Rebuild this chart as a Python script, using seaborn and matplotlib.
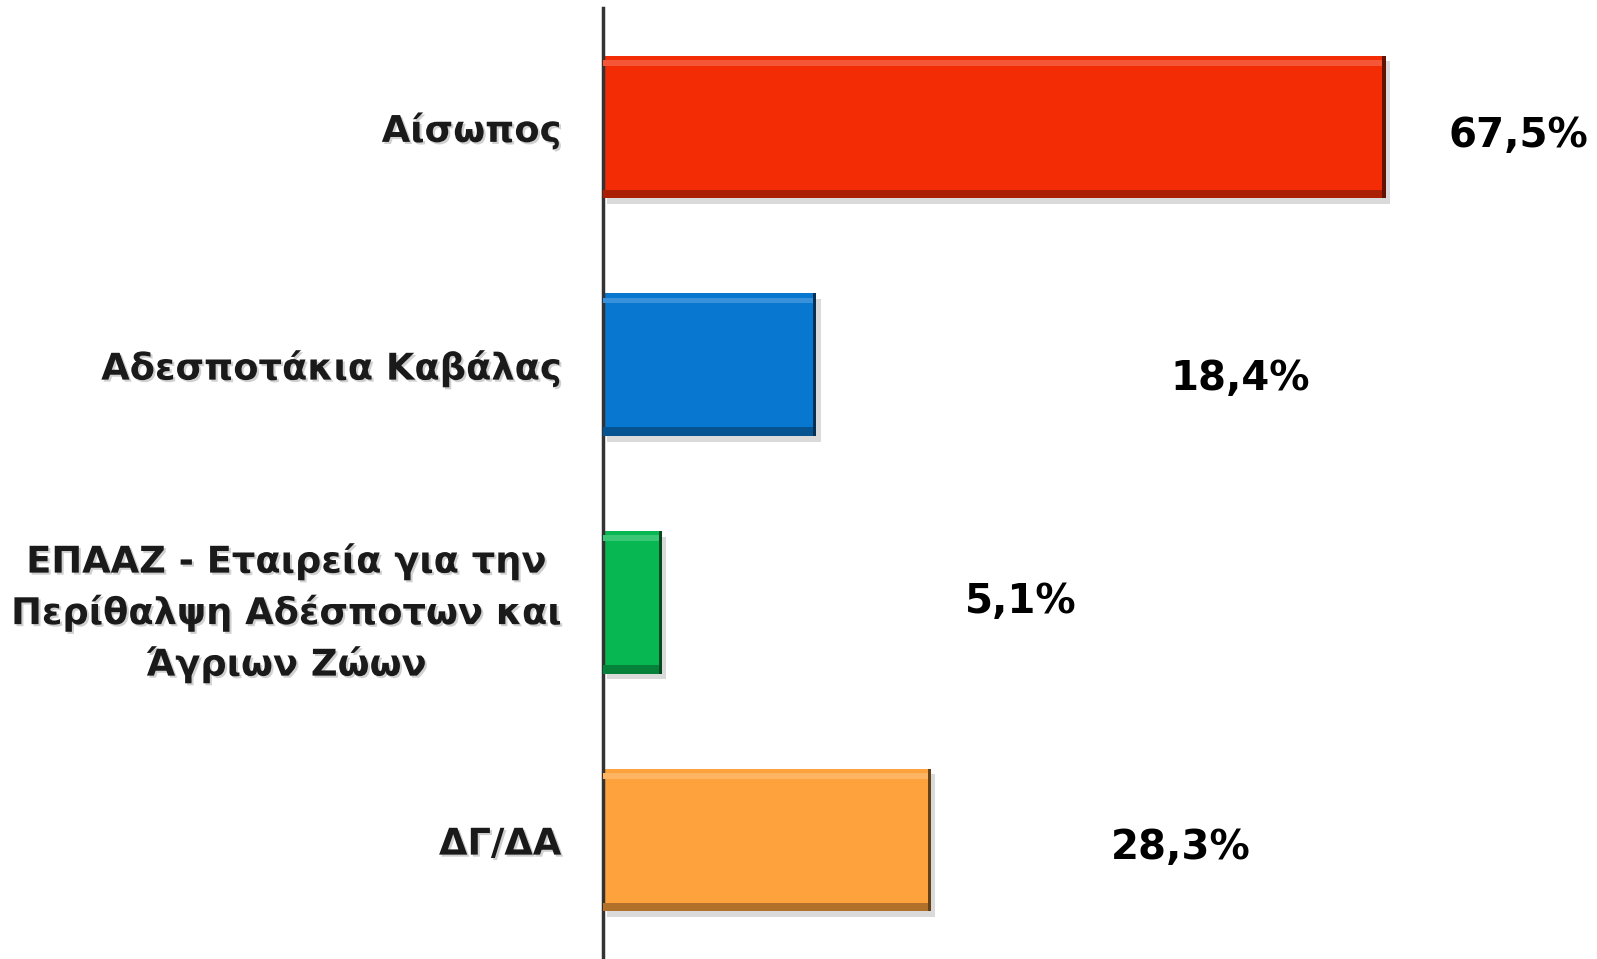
import pandas as pd
import seaborn as sns
import matplotlib.pyplot as plt
import matplotlib.patheffects as pe
from matplotlib.patches import Rectangle
from matplotlib.colors import to_rgb

# Δεδομένα
categories = [
    "Αίσωπος",
    "Αδεσποτάκια Καβάλας",
    "ΕΠΑΑΖ - Εταιρεία για την\nΠερίθαλψη Αδέσποτων και\nΆγριων Ζώων",
    "ΔΓ/ΔΑ",
]
values = [67.5, 18.4, 5.1, 28.3]
colors = ["#F42C06", "#0877CF", "#07B852", "#FDA23C"]

# θέσεις ετικετών τιμών (όπως στο πρωτότυπο)
label_x = [78.9, 54.9, 36.0, 49.8]
label_dy = [0.04, 0.06, 0.0, 0.035]

df = pd.DataFrame({"category": categories, "value": values})

sns.set_style("white")
plt.rcParams["font.family"] = ["DejaVu Sans"]

fig = plt.figure(figsize=(15.97, 9.59), dpi=100)
ax = fig.add_axes([603 / 1597, 0, 1 - 603 / 1597, 951 / 959])

sns.barplot(data=df, x="value", y="category", hue="category",
            palette=colors, saturation=1, width=0.6, legend=False, ax=ax,
            edgecolor="none")


def shade(c, f):
    r, g, b = to_rgb(c)
    if f < 1:
        return (r * f, g * f, b * f)
    return (r + (1 - r) * (f - 1), g + (1 - g) * (f - 1), b + (1 - b) * (f - 1))


# σκιά + ανάγλυφο
for patch, col in zip(ax.patches, colors):
    patch.set_path_effects([pe.SimplePatchShadow(offset=(3, -4), alpha=0.18,
                                                 shadow_rgbFace="0.2"),
                            pe.Normal()])
    x0, y0 = patch.get_x(), patch.get_y()
    w, h = patch.get_width(), patch.get_height()
    ax.add_patch(Rectangle((x0, y0 + h * 0.03), w, h * 0.04, color=shade(col, 1.2), lw=0, zorder=3))
    ax.add_patch(Rectangle((x0, y0 + h * 0.94), w, h * 0.06, color=shade(col, 0.7), lw=0, zorder=3))
    ax.add_patch(Rectangle((x0 + w - 0.3, y0), 0.3, h, color=shade(col, 0.4), lw=0, zorder=3))

ax.set_xlim(0, 85.7)
ax.set_ylim(3.5, -0.5)
ax.set_xlabel("")
ax.set_ylabel("")
ax.set_xticks([])

for s in ["top", "right", "bottom"]:
    ax.spines[s].set_visible(False)
ax.spines["left"].set_color("#333333")
ax.spines["left"].set_linewidth(2.5)

text_shadow = [pe.SimplePatchShadow(offset=(1.5, -1.5), alpha=0.3, shadow_rgbFace="0.4"),
               pe.Normal()]

ax.tick_params(axis="y", length=0, pad=30)
for lbl in ax.get_yticklabels():
    lbl.set_fontsize(26.5)
    lbl.set_fontweight("bold")
    lbl.set_color("#1a1a1a")
    lbl.set_multialignment("center")
    lbl.set_linespacing(1.45)
    lbl.set_path_effects(text_shadow)

for i, v in enumerate(values):
    ax.text(label_x[i], i + label_dy[i], f"{v:.1f}".replace(".", ",") + "%",
            ha="center", va="center", fontsize=29, fontweight="bold", color="black")

fig.savefig("out.png", dpi=100)
